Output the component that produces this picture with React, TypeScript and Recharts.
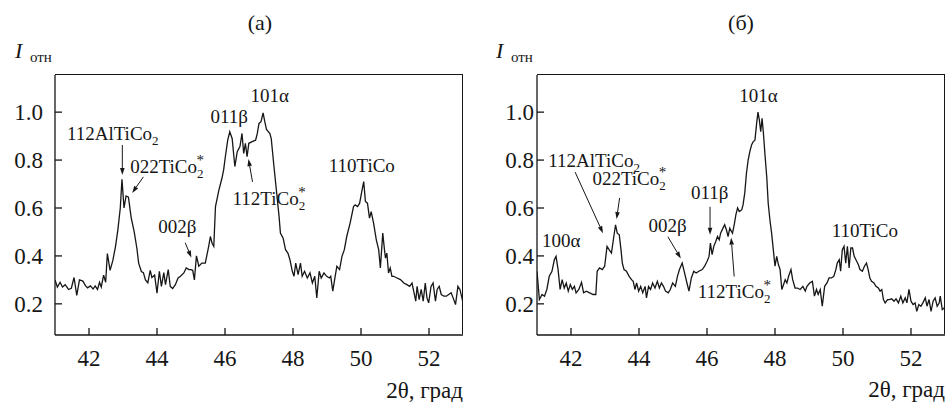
import React from 'react'
import { LineChart, Line, XAxis, YAxis, ReferenceDot, ReferenceLine } from 'recharts'

const SERIF = "'Liberation Serif', 'DejaVu Serif', 'Times New Roman', Tinos, serif"

// panel (а): 2θ, deg and relative intensity
const thetaA = [
  41.0, 41.07, 41.15, 41.22, 41.3, 41.4, 41.48, 41.56, 41.64, 41.72, 41.82, 41.9, 41.96, 42.04, 42.12, 42.18,
  42.25, 42.31, 42.36, 42.43, 42.49, 42.54, 42.62, 42.7, 42.78, 42.85, 42.92, 42.97, 43.03, 43.09, 43.16, 43.24,
  43.33, 43.41, 43.46, 43.54, 43.6, 43.66, 43.73, 43.8, 43.85, 43.93, 44.0, 44.07, 44.13, 44.2, 44.25, 44.33,
  44.39, 44.46, 44.54, 44.62, 44.69, 44.79, 44.86, 44.94, 45.0, 45.05, 45.1, 45.16, 45.23, 45.32, 45.42, 45.52,
  45.57, 45.62, 45.67, 45.72, 45.82, 45.91, 45.96, 46.01, 46.08, 46.14, 46.21, 46.29, 46.36, 46.44, 46.5, 46.55,
  46.6, 46.65, 46.7, 46.8, 46.9, 46.95, 47.0, 47.06, 47.12, 47.17, 47.22, 47.32, 47.36, 47.44, 47.52, 47.59,
  47.63, 47.71, 47.78, 47.85, 47.91, 47.98, 48.03, 48.08, 48.15, 48.22, 48.27, 48.34, 48.42, 48.5, 48.57, 48.64,
  48.7, 48.77, 48.83, 48.91, 48.99, 49.07, 49.11, 49.17, 49.24, 49.29, 49.37, 49.44, 49.51, 49.58, 49.68, 49.78,
  49.83, 49.9, 49.96, 50.03, 50.08, 50.13, 50.19, 50.25, 50.3, 50.37, 50.45, 50.52, 50.57, 50.64, 50.69, 50.72,
  50.76, 50.81, 50.86, 50.91, 50.96, 51.06, 51.16, 51.26, 51.35, 51.43, 51.5, 51.55, 51.61, 51.65, 51.71, 51.77,
  51.83, 51.89, 51.94, 51.99, 52.06, 52.12, 52.19, 52.24, 52.3, 52.36, 52.44, 52.51, 52.58, 52.65, 52.71, 52.78,
  52.85, 52.91, 52.98, 53.0,
]
const intensityA = [
  0.3, 0.27, 0.29, 0.27, 0.28, 0.26, 0.265, 0.31, 0.235, 0.3, 0.295, 0.275, 0.267, 0.275, 0.262, 0.275,
  0.26, 0.29, 0.27, 0.32, 0.29, 0.41, 0.34, 0.38, 0.44, 0.51, 0.6, 0.72, 0.6, 0.65, 0.645, 0.56,
  0.5, 0.43, 0.37, 0.335, 0.33, 0.3, 0.288, 0.34, 0.31, 0.32, 0.245, 0.336, 0.273, 0.33, 0.28, 0.343,
  0.273, 0.264, 0.28, 0.308, 0.315, 0.329, 0.35, 0.343, 0.343, 0.34, 0.3, 0.4, 0.357, 0.37, 0.37, 0.44,
  0.481, 0.453, 0.44, 0.606, 0.675, 0.724, 0.759, 0.814, 0.883, 0.918, 0.89, 0.773, 0.835, 0.856, 0.911, 0.828,
  0.87, 0.814, 0.87, 0.877, 0.883, 0.911, 0.953, 0.96, 0.997, 0.96, 0.928, 0.911, 0.89, 0.773, 0.662, 0.565,
  0.495, 0.474, 0.426, 0.412, 0.384, 0.336, 0.315, 0.37, 0.322, 0.37, 0.315, 0.336, 0.308, 0.329, 0.287, 0.315,
  0.225, 0.336, 0.308, 0.329, 0.315, 0.308, 0.315, 0.253, 0.315, 0.357, 0.343, 0.398, 0.426, 0.481, 0.537, 0.606,
  0.613, 0.606, 0.62, 0.675, 0.71, 0.627, 0.62, 0.558, 0.585, 0.537, 0.467, 0.426, 0.35, 0.495, 0.426, 0.391,
  0.412, 0.329, 0.35, 0.315, 0.315, 0.308, 0.301, 0.287, 0.28, 0.273, 0.287, 0.253, 0.211, 0.273, 0.218, 0.26,
  0.211, 0.287, 0.225, 0.204, 0.273, 0.287, 0.211, 0.26, 0.273, 0.239, 0.232, 0.232, 0.239, 0.246, 0.225, 0.197,
  0.273, 0.26, 0.218, 0.204,
]

// panel (б)
const thetaB = [
  41.0, 41.07, 41.15, 41.22, 41.29, 41.36, 41.44, 41.51, 41.56, 41.62, 41.68, 41.74, 41.8, 41.86, 41.92, 41.98,
  42.04, 42.1, 42.15, 42.23, 42.31, 42.37, 42.45, 42.55, 42.65, 42.73, 42.77, 42.84, 42.92, 42.99, 43.06, 43.12,
  43.19, 43.26, 43.31, 43.36, 43.42, 43.47, 43.51, 43.56, 43.63, 43.71, 43.78, 43.83, 43.88, 43.93, 43.99, 44.05,
  44.11, 44.18, 44.22, 44.28, 44.34, 44.4, 44.47, 44.54, 44.6, 44.66, 44.72, 44.78, 44.86, 44.92, 44.99, 45.07,
  45.13, 45.19, 45.27, 45.34, 45.41, 45.47, 45.54, 45.61, 45.68, 45.76, 45.86, 45.93, 46.0, 46.06, 46.1, 46.15,
  46.2, 46.26, 46.31, 46.36, 46.4, 46.47, 46.52, 46.57, 46.62, 46.67, 46.72, 46.75, 46.8, 46.85, 46.9, 46.95,
  47.02, 47.06, 47.11, 47.16, 47.21, 47.26, 47.31, 47.36, 47.41, 47.46, 47.5, 47.54, 47.58, 47.62, 47.66, 47.71,
  47.76, 47.8, 47.85, 47.9, 47.95, 48.0, 48.05, 48.1, 48.15, 48.2, 48.25, 48.3, 48.35, 48.4, 48.47, 48.52,
  48.59, 48.66, 48.74, 48.82, 48.89, 48.94, 49.02, 49.1, 49.16, 49.22, 49.27, 49.33, 49.39, 49.46, 49.53, 49.59,
  49.66, 49.73, 49.79, 49.83, 49.89, 49.93, 49.98, 50.03, 50.08, 50.13, 50.18, 50.23, 50.28, 50.33, 50.38, 50.45,
  50.5, 50.57, 50.63, 50.69, 50.74, 50.79, 50.84, 50.91, 50.97, 51.04, 51.09, 51.14, 51.19, 51.24, 51.31, 51.37,
  51.43, 51.5, 51.56, 51.63, 51.7, 51.76, 51.83, 51.88, 51.94, 52.0, 52.06, 52.12, 52.17, 52.23, 52.29, 52.35,
  52.42, 52.47, 52.53, 52.59, 52.65, 52.71, 52.77, 52.83, 52.86, 52.92, 52.98, 53.0,
]
const intensityB = [
  0.336, 0.218, 0.239, 0.232, 0.26, 0.315, 0.336, 0.384, 0.398, 0.343, 0.26, 0.301, 0.266, 0.287, 0.253, 0.28,
  0.26, 0.273, 0.246, 0.26, 0.29, 0.246, 0.253, 0.246, 0.239, 0.239, 0.336, 0.35, 0.343, 0.357, 0.44, 0.426,
  0.412, 0.481, 0.53, 0.495, 0.488, 0.426, 0.37, 0.343, 0.336, 0.315, 0.301, 0.294, 0.26, 0.287, 0.253, 0.273,
  0.246, 0.273, 0.225, 0.273, 0.26, 0.287, 0.266, 0.294, 0.266, 0.287, 0.273, 0.253, 0.246, 0.26, 0.287, 0.273,
  0.315, 0.343, 0.37, 0.329, 0.287, 0.253, 0.308, 0.336, 0.329, 0.336, 0.343, 0.357, 0.377, 0.398, 0.454, 0.405,
  0.44, 0.461, 0.481, 0.467, 0.495, 0.516, 0.53, 0.509, 0.481, 0.516, 0.502, 0.495, 0.53, 0.572, 0.6, 0.585,
  0.592, 0.613, 0.662, 0.745, 0.8, 0.835, 0.863, 0.877, 0.883, 0.953, 1.0, 0.967, 0.918, 0.974, 0.911, 0.814,
  0.724, 0.62, 0.551, 0.495, 0.426, 0.357, 0.398, 0.364, 0.343, 0.26, 0.28, 0.301, 0.287, 0.315, 0.343, 0.301,
  0.266, 0.266, 0.26, 0.273, 0.253, 0.273, 0.287, 0.294, 0.232, 0.26, 0.239, 0.26, 0.19, 0.273, 0.287, 0.308,
  0.308, 0.315, 0.343, 0.37, 0.384, 0.336, 0.426, 0.44, 0.37, 0.44, 0.35, 0.433, 0.433, 0.398, 0.384, 0.364,
  0.343, 0.336, 0.357, 0.37, 0.343, 0.308, 0.294, 0.287, 0.273, 0.266, 0.253, 0.26, 0.218, 0.204, 0.218, 0.218,
  0.221, 0.211, 0.221, 0.204, 0.232, 0.204, 0.225, 0.204, 0.26, 0.211, 0.197, 0.204, 0.169, 0.197, 0.19, 0.204,
  0.225, 0.19, 0.218, 0.169, 0.211, 0.225, 0.19, 0.204, 0.232, 0.176, 0.183, 0.197,
]

const xTicks = [42, 44, 46, 48, 50, 52]
const yTicks = [0.2, 0.4, 0.6, 0.8, 1.0]
const xDomain: [number, number] = [41, 53]
const yDomain: [number, number] = [0.07, 1.155]

type Note = { text: string; sub?: string; star?: boolean; x: number; y: number }
type Arrow = { x1: number; y1: number; x2: number; y2: number }

// peak labels, anchored in data coordinates (text start / baseline)
const notesA: Note[] = [
  { text: '112AlTiCo', sub: '2', x: 41.35, y: 0.883 },
  { text: '022TiCo', sub: '2', star: true, x: 43.21, y: 0.746 },
  { text: '011β', x: 45.57, y: 0.954 },
  { text: '101α', x: 46.75, y: 1.042 },
  { text: '112TiCo', sub: '2', star: true, x: 46.22, y: 0.613 },
  { text: '110TiCo', x: 49.05, y: 0.75 },
  { text: '002β', x: 44.04, y: 0.497 },
]
const arrowsA: Arrow[] = [
  { x1: 42.98, y1: 0.863, x2: 42.98, y2: 0.738 },
  { x1: 43.6, y1: 0.73, x2: 43.27, y2: 0.663 },
  { x1: 46.81, y1: 0.709, x2: 46.69, y2: 0.804 },
  { x1: 44.83, y1: 0.455, x2: 45.01, y2: 0.393 },
]

const notesB: Note[] = [
  { text: '101α', x: 46.95, y: 1.042 },
  { text: '112AlTiCo', sub: '2', x: 41.33, y: 0.771 },
  { text: '022TiCo', sub: '2', star: true, x: 42.63, y: 0.696 },
  { text: '011β', x: 45.53, y: 0.638 },
  { text: '002β', x: 44.28, y: 0.5 },
  { text: '112TiCo', sub: '2', star: true, x: 45.73, y: 0.226 },
  { text: '100α', x: 41.15, y: 0.438 },
  { text: '110TiCo', x: 49.67, y: 0.48 },
]
const arrowsB: Arrow[] = [
  { x1: 42.12, y1: 0.75, x2: 42.94, y2: 0.495 },
  { x1: 43.43, y1: 0.642, x2: 43.34, y2: 0.554 },
  { x1: 46.09, y1: 0.605, x2: 46.09, y2: 0.488 },
  { x1: 44.85, y1: 0.48, x2: 45.23, y2: 0.389 },
  { x1: 46.8, y1: 0.314, x2: 46.71, y2: 0.476 },
]

const INK = '#161616'
// layout of the two plot boxes on the page
const PLOT_TOP = 75
const PLOT_BOTTOM = 335
const PLOT_W = 408
const BOX_A = 55
const BOX_B = 537

function ArrowShape(props: any) {
  const { x1, y1, x2, y2 } = props
  const a = Math.atan2(y2 - y1, x2 - x1)
  const len = 7
  const w = 2.3
  const bx = x2 - len * Math.cos(a)
  const by = y2 - len * Math.sin(a)
  const pts = `${x2},${y2} ${bx - w * Math.sin(a)},${by + w * Math.cos(a)} ${bx + w * Math.sin(a)},${by - w * Math.cos(a)}`
  return (
    <g>
      <line x1={x1} y1={y1} x2={bx} y2={by} stroke={INK} strokeWidth={1} />
      <polygon points={pts} fill={INK} />
    </g>
  )
}

const noteShape = (n: Note) => (props: any) => (
  <text x={props.cx} y={props.cy} style={{ fontFamily: SERIF, fontSize: 19 }} fill={INK}>
    {n.text}
    {n.sub && <tspan dy={5} style={{ fontSize: 13 }}>{n.sub}</tspan>}
    {n.star && <tspan dx={-7} dy={-13} style={{ fontSize: 15 }}>*</tspan>}
  </text>
)

function Panel({ theta, intensity, notes, arrows, width, left, labelGap }: {
  theta: number[]; intensity: number[]; notes: Note[]; arrows: Arrow[]
  width: number; left: number; labelGap: number
}) {
  const data = theta.map((t, i) => ({ theta: t, intensity: intensity[i] }))
  const tickStyle = { fill: INK, fontSize: 23, fontFamily: SERIF }
  const right = width - left - PLOT_W
  return (
    <LineChart width={width} height={402} data={data}
      margin={{ top: PLOT_TOP, right, bottom: 402 - PLOT_BOTTOM - 1, left: left - 1 }}
      style={{ fontFamily: SERIF }}>
      <XAxis dataKey="theta" type="number" domain={xDomain} allowDataOverflow ticks={xTicks}
        height={1} tickSize={-7} tickMargin={22} stroke={INK} strokeWidth={1.3} tick={tickStyle} />
      <YAxis type="number" domain={yDomain} allowDataOverflow ticks={yTicks} width={1}
        tickSize={-7} tickMargin={labelGap} stroke={INK} strokeWidth={1.3} tick={tickStyle}
        tickFormatter={(v: number) => v.toFixed(1)} />
      <Line type="linear" dataKey="intensity" stroke={INK} strokeWidth={1.3} dot={false} isAnimationActive={false} />
      {arrows.map((a, i) => (
        <ReferenceLine key={'a' + i} segment={[{ x: a.x1, y: a.y1 }, { x: a.x2, y: a.y2 }]} shape={ArrowShape} />
      ))}
      {notes.map((n, i) => (
        <ReferenceDot key={'n' + i} x={n.x} y={n.y} r={0} shape={noteShape(n)} />
      ))}
    </LineChart>
  )
}

export default function App() {
  return (
    <div style={{ position: 'absolute', left: 0, top: 0, width: 946, height: 402, background: '#fff', overflow: 'hidden', fontFamily: SERIF }}>
      <div style={{ position: 'absolute', left: 0, top: 0 }}>
        <Panel theta={thetaA} intensity={intensityA} notes={notesA} arrows={arrowsA} width={470} left={BOX_A} labelGap={19} />
      </div>
      <div style={{ position: 'absolute', left: 470, top: 0 }}>
        <Panel theta={thetaB} intensity={intensityB} notes={notesB} arrows={arrowsB} width={476} left={BOX_B - 470} labelGap={10} />
      </div>
      {/* top and right sides of each plot frame */}
      {[BOX_A, BOX_B].map((x) => (
        <div key={x} style={{
          position: 'absolute', left: x, top: PLOT_TOP - 1, width: PLOT_W, height: PLOT_BOTTOM - PLOT_TOP,
          borderTop: `1px solid ${INK}`, borderRight: `1px solid ${INK}`, boxSizing: 'border-box', pointerEvents: 'none',
        }} />
      ))}
      <svg width={946} height={402} style={{ position: 'absolute', left: 0, top: 0, pointerEvents: 'none', fontFamily: SERIF }}
        fill={INK}>
        <text x={260} y={30} style={{ fontSize: 22 }} textAnchor="middle">(а)</text>
        <text x={741} y={30} style={{ fontSize: 22 }} textAnchor="middle">(б)</text>
        <text x={15} y={58} style={{ fontSize: 22, fontStyle: 'italic' }}>I</text>
        <text x={30} y={62} style={{ fontSize: 15 }}>отн</text>
        <text x={496} y={58} style={{ fontSize: 22, fontStyle: 'italic' }}>I</text>
        <text x={511} y={62} style={{ fontSize: 15 }}>отн</text>
        <text x={463} y={398} style={{ fontSize: 23 }} textAnchor="end">2θ, град</text>
        <text x={945} y={397} style={{ fontSize: 23 }} textAnchor="end">2θ, град</text>
      </svg>
    </div>
  )
}
